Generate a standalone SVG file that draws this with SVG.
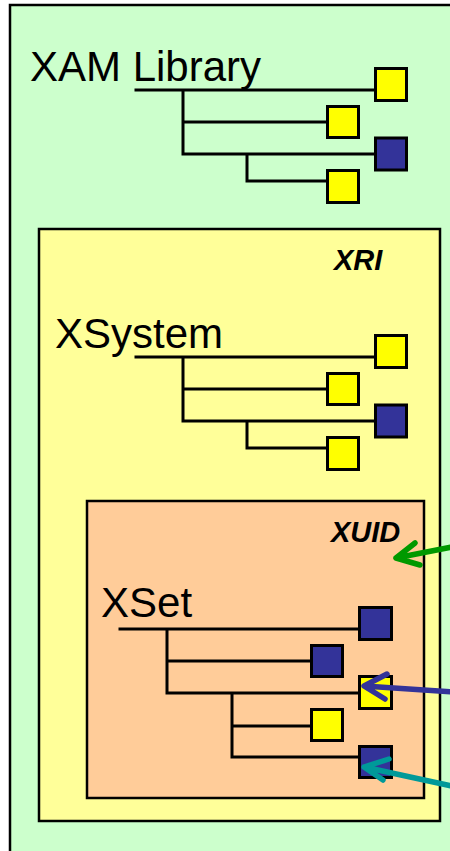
<svg xmlns="http://www.w3.org/2000/svg" width="450" height="851" viewBox="0 0 450 851">
<style>
.box{stroke:#000;stroke-width:2.5}
.sq{stroke:#000;stroke-width:3}
.y{fill:#FFFF00}
.b{fill:#333399}
.ln{stroke:#000;stroke-width:3;fill:none;stroke-linecap:square}
.big{font-family:"Liberation Sans",Arial,sans-serif;font-size:42px;fill:#000}
.lbl{font-family:"Liberation Sans",Arial,sans-serif;font-size:29px;font-weight:bold;font-style:italic;fill:#000}
.arr{fill:none;stroke-width:5.5;stroke-linecap:round;stroke-linejoin:round}
</style>
<rect x="0" y="0" width="450" height="851" fill="#fff"/>
<g id="xam">
<rect class="box" x="10" y="5" width="460" height="870" fill="#CCFFCC"/>
<text class="big" x="30" y="81">XAM Library</text>
<path class="ln" d="M136 90H375M183 90V154M183 122H327M183 154H375M247 154V181M247 181H327"/>
<rect class="sq y" x="375.5" y="68.5" width="31" height="32"/>
<rect class="sq y" x="327.5" y="106.5" width="31" height="31"/>
<rect class="sq b" x="375.5" y="138" width="31" height="32"/>
<rect class="sq y" x="327.5" y="170.5" width="31" height="32"/>
</g>
<g id="xri">
<rect class="box" x="39" y="229" width="401" height="592" fill="#FFFF99"/>
<text class="lbl" x="334" y="270">XRI</text>
<text class="big" x="55" y="348">XSystem</text>
<path class="ln" d="M136 357H375M183 357V421M183 389H327M183 421H375M247 421V448M247 448H327"/>
<rect class="sq y" x="375.5" y="335.5" width="31" height="32"/>
<rect class="sq y" x="327.5" y="373.5" width="31" height="31"/>
<rect class="sq b" x="375.5" y="405" width="31" height="32"/>
<rect class="sq y" x="327.5" y="437.5" width="31" height="32"/>
</g>
<g id="xuid">
<rect class="box" x="87" y="501" width="337" height="297" fill="#FFCC99"/>
<text class="lbl" x="331" y="542">XUID</text>
<text class="big" x="101" y="617">XSet</text>
<path class="ln" d="M120 629H359M167 629V693M167 661H311M167 693H359M232 693V757M232 726H311M232 757H359"/>
<rect class="sq b" x="359.5" y="607.5" width="32" height="32"/>
<rect class="sq b" x="311.5" y="645.5" width="31" height="31"/>
<rect class="sq y" x="359.5" y="676.5" width="32" height="32"/>
<rect class="sq y" x="311.5" y="709.5" width="31" height="31"/>
<rect class="sq b" x="359.5" y="746.5" width="32" height="31"/>
</g>
<g id="connectors">
<path class="arr" stroke="#009900" d="M452 547L396 558M415 543L396 558L420 565"/>
<path class="arr" stroke="#333399" d="M452 692L364 686M387 674L364 686L385 699"/>
<path class="arr" stroke="#009999" d="M452 786L364 767M389 759L364 767L383 780"/>
</g>
</svg>
